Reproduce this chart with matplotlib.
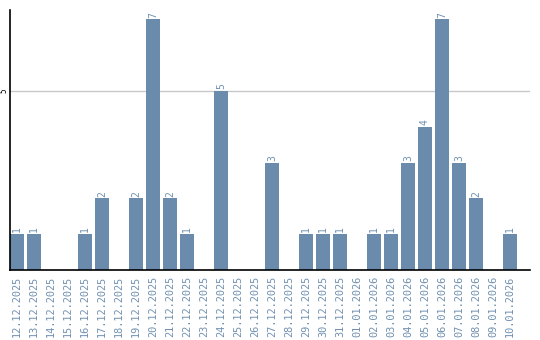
import matplotlib
matplotlib.use("Agg")
import matplotlib.pyplot as plt

dates = ["12.12.2025", "13.12.2025", "14.12.2025", "15.12.2025", "16.12.2025",
         "17.12.2025", "18.12.2025", "19.12.2025", "20.12.2025", "21.12.2025",
         "22.12.2025", "23.12.2025", "24.12.2025", "25.12.2025", "26.12.2025",
         "27.12.2025", "28.12.2025", "29.12.2025", "30.12.2025", "31.12.2025",
         "01.01.2026", "02.01.2026", "03.01.2026", "04.01.2026", "05.01.2026",
         "06.01.2026", "07.01.2026", "08.01.2026", "09.01.2026", "10.01.2026"]
values = [1, 1, 0, 0, 1, 2, 0, 2, 7, 2, 1, 0, 5, 0, 0, 3, 0, 1, 1, 1,
          0, 1, 1, 3, 4, 7, 3, 2, 0, 1]

bar_color = "#6a8bab"
text_color = "#7090b0"

fig = plt.figure(figsize=(5.4, 3.4), dpi=100)
ax = fig.add_axes([10/540, 70/340, 520/540, 260/340])

x = list(range(len(dates)))
ax.bar(x, values, width=0.82, color=bar_color, zorder=2)
for xi, v in zip(x, values):
    if v > 0:
        ax.text(xi, v + 0.05, str(v), rotation=90, ha="center", va="bottom",
                fontsize=7, color=text_color, family="DejaVu Sans Mono")

ax.set_xlim(-0.41, 30.18)
ax.set_ylim(0, 7.26)
ax.set_yticks([5])
ax.set_yticklabels(["5"], rotation=90, va="center", fontsize=5.5,
                   family="DejaVu Sans Mono")
ax.tick_params(axis="y", length=0, pad=1)
ax.grid(axis="y", color="#c8c8c8", linewidth=1, zorder=1)
ax.set_xticks(x)
ax.set_xticklabels(dates, rotation=90, fontsize=7.4, color=text_color,
                   family="DejaVu Sans Mono", va="top")
ax.tick_params(axis="x", length=0, pad=4)

for s in ["top", "right"]:
    ax.spines[s].set_visible(False)
ax.spines["left"].set_color("black")
ax.spines["bottom"].set_color("black")
ax.spines["left"].set_linewidth(1.2)
ax.spines["bottom"].set_linewidth(1.2)

fig.savefig("out.png", dpi=100)
